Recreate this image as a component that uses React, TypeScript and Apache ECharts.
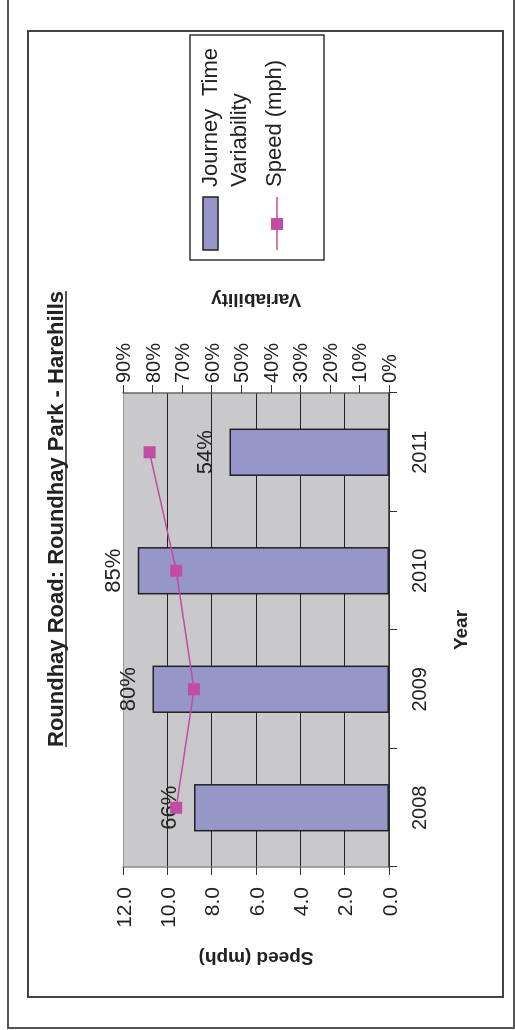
import React, { useEffect, useRef } from "react";
import * as echarts from "echarts";

// Chart data
const years = ["2008", "2009", "2010", "2011"];
const variability = [66, 80, 85, 54]; // journey time variability, %
const speed = [9.6, 8.8, 9.6, 10.8]; // average speed, mph
const speedTicks = { min: 0, max: 12, interval: 2 };
const variabilityTicks = { min: 0, max: 90, interval: 10 };

const titleText = "Roundhay Road: Roundhay Park - Harehills";
const FONT = '"Liberation Sans", Arial, Helvetica, sans-serif';
const BAR = "#9696C9";
const LINE = "#C24CA3";

// The chart is laid out landscape, then turned a quarter turn on the page
const W = 1030;
const H = 515;

export default function App() {
  const ref = useRef<HTMLDivElement>(null);

  useEffect(() => {
    if (!ref.current) return;
    const chart = echarts.init(ref.current, null, { renderer: "svg" });

    const ctx = document.createElement("canvas").getContext("2d");
    let titleW = 456;
    if (ctx) {
      ctx.font = `bold 22px ${FONT}`;
      titleW = ctx.measureText(titleText).width;
    }
    const titleCx = 511;

    chart.setOption({
      animation: false,
      backgroundColor: "#ffffff",
      textStyle: { fontFamily: FONT, color: "#222" },
      title: {
        text: titleText,
        left: titleCx - titleW / 2,
        top: 44,
        padding: 0,
        textStyle: { fontFamily: FONT, fontSize: 22, fontWeight: "bold", color: "#222" },
      },
      grid: {
        left: 163,
        top: 123,
        width: 474,
        height: 266,
        show: true,
        backgroundColor: "#C9C9CB",
        borderWidth: 0,
      },
      xAxis: {
        type: "category",
        data: years,
        name: "Year",
        nameLocation: "middle",
        nameGap: 62,
        nameTextStyle: { fontFamily: FONT, fontSize: 19, fontWeight: "bold", color: "#222" },
        axisLine: { show: true, lineStyle: { color: "#333", width: 1.5 } },
        axisTick: { show: true, inside: false, length: 8, alignWithLabel: false, lineStyle: { color: "#333" } },
        axisLabel: { margin: 20, fontSize: 20, color: "#222", fontFamily: FONT },
      },
      yAxis: [
        {
          type: "value",
          min: speedTicks.min,
          max: speedTicks.max,
          interval: speedTicks.interval,
          position: "left",
          name: "Speed (mph)",
          nameLocation: "middle",
          nameRotate: 90,
          nameGap: 82,
          nameTextStyle: { fontFamily: FONT, fontSize: 19, fontWeight: "bold", color: "#222" },
          axisLine: { show: true, lineStyle: { color: "#888", width: 1.5 } },
          axisTick: { show: true, inside: false, length: 8, lineStyle: { color: "#333" } },
          axisLabel: {
            margin: 20,
            fontSize: 21,
            color: "#222",
            fontFamily: FONT,
            formatter: (v: number) => v.toFixed(1),
          },
          splitLine: {
            show: true,
            lineStyle: {
              color: ["#222", "#222", "#222", "#222", "#222", "#222", "#9a9a9a"],
              width: 1,
            },
          },
        },
        {
          type: "value",
          min: variabilityTicks.min,
          max: variabilityTicks.max,
          interval: variabilityTicks.interval,
          position: "right",
          name: "Variability",
          nameLocation: "middle",
          nameRotate: 90,
          nameGap: 83,
          nameTextStyle: { fontFamily: FONT, fontSize: 19, fontWeight: "bold", color: "#222" },
          axisLine: { show: true, lineStyle: { color: "#666", width: 1.5 } },
          axisTick: { show: true, inside: false, length: 8, lineStyle: { color: "#333" } },
          axisLabel: {
            margin: 10,
            fontSize: 20,
            color: "#222",
            fontFamily: FONT,
            formatter: "{value}%",
          },
          splitLine: { show: false },
        },
      ],
      series: [
        {
          name: "Journey Time Variability",
          type: "bar",
          yAxisIndex: 1,
          data: variability,
          barWidth: "40%",
          itemStyle: { color: BAR, borderColor: "#222", borderWidth: 1.5 },
          label: {
            show: true,
            position: "top",
            distance: 14,
            formatter: "{c}%",
            fontSize: 22,
            color: "#222",
            fontFamily: FONT,
          },
          z: 2,
        },
        {
          name: "Speed (mph)",
          type: "line",
          yAxisIndex: 0,
          data: speed,
          symbol: "rect",
          symbolSize: 12,
          itemStyle: { color: LINE },
          lineStyle: { color: LINE, width: 1.5 },
          z: 3,
        },
      ],
      graphic: [
        // outer frame
        {
          type: "rect",
          shape: { x: 2, y: 8, width: W - 1, height: 506 },
          style: { fill: "none", stroke: "#555", lineWidth: 2 },
          silent: true,
        },
        // chart area frame
        {
          type: "rect",
          shape: { x: 33, y: 28, width: 966, height: 475 },
          style: { fill: "none", stroke: "#444", lineWidth: 2 },
          silent: true,
        },
        // title underline
        {
          type: "line",
          shape: { x1: titleCx - titleW / 2, y1: 66, x2: titleCx + titleW / 2, y2: 66 },
          style: { stroke: "#222", lineWidth: 1.5 },
          silent: true,
        },
        // legend
        {
          type: "group",
          silent: true,
          children: [
            {
              type: "rect",
              shape: { x: 770, y: 190, width: 225, height: 134 },
              style: { fill: "#fff", stroke: "#333", lineWidth: 1.5 },
            },
            {
              type: "rect",
              shape: { x: 780, y: 203, width: 53, height: 15 },
              style: { fill: BAR, stroke: "#222", lineWidth: 1.5 },
            },
            {
              type: "text",
              x: 843,
              y: 209,
              style: { text: "Journey", font: `22px ${FONT}`, fill: "#222", textAlign: "left", textVerticalAlign: "middle" },
            },
            {
              type: "text",
              x: 982,
              y: 209,
              style: { text: "Time", font: `22px ${FONT}`, fill: "#222", textAlign: "right", textVerticalAlign: "middle" },
            },
            {
              type: "text",
              x: 843,
              y: 238,
              style: { text: "Variability", font: `22px ${FONT}`, fill: "#222", textAlign: "left", textVerticalAlign: "middle" },
            },
            {
              type: "line",
              shape: { x1: 780, y1: 277, x2: 833, y2: 277 },
              style: { stroke: LINE, lineWidth: 1.5 },
            },
            {
              type: "rect",
              shape: { x: 800, y: 271, width: 12, height: 12 },
              style: { fill: LINE },
            },
            {
              type: "text",
              x: 843,
              y: 273,
              style: { text: "Speed (mph)", font: `22px ${FONT}`, fill: "#222", textAlign: "left", textVerticalAlign: "middle" },
            },
          ],
        },
      ],
    });

    return () => chart.dispose();
  }, []);

  return (
    <div
      ref={ref}
      style={{
        position: "fixed",
        left: 0,
        top: 0,
        width: W,
        height: H,
        transformOrigin: "0 0",
        transform: `translate(0px, ${W}px) rotate(-90deg)`,
        background: "#fff",
      }}
    />
  );
}
